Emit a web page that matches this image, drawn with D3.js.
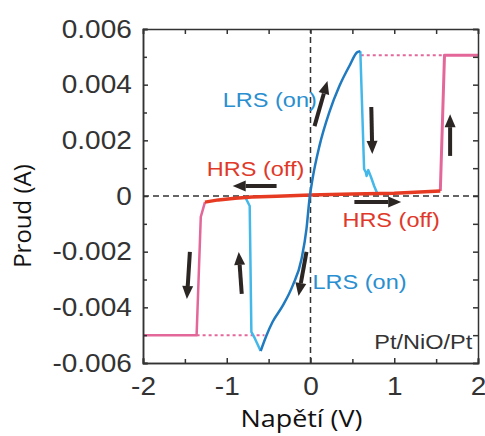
<!DOCTYPE html>
<html>
<head>
<meta charset="utf-8">
<script src="https://cdn.jsdelivr.net/npm/d3@7"></script>
<style>
    body { margin: 0; background: #fff; }
    svg { display: block; }
    .axis path, .axis line { stroke: #333; stroke-width: 1.5; }
    .axis text { font-family: "Liberation Sans", Arial, sans-serif; font-size: 25px; fill: #333; }
</style>
</head>
<body>
<svg class="chart" width="485" height="436"></svg>
<script>
// tick values and labels
var xTicks = [-2, -1, 0, 1, 2];
var xTickLabels = ["-2", "-1", "0", "1", "2"];
var yTicks = [-0.006, -0.004, -0.002, 0, 0.002, 0.004, 0.006];
var yTickLabels = ["-0.006", "-0.004", "-0.002", "0", "0.002", "0.004", "0.006"];
var xMinorTicks = [-1.5, -0.5, 0.5, 1.5];
var yMinorTicks = [-0.005, -0.003, -0.001, 0.001, 0.003, 0.005];

// curves, [voltage, current]
var hrsCurve = [[-1.26, -0.00022], [-1.1, -0.00014], [-0.9, -0.00008], [-0.7, -0.00004],
    [-0.4, -0.00001], [0, 0.00004], [0.5, 0.00007], [1.0, 0.0001], [1.55, 0.00018]];
var lrsCurve = [[-0.595, -0.00557], [-0.527, -0.00502], [-0.452, -0.00452], [-0.333, -0.00395],
    [-0.214, -0.00323], [-0.107, -0.00226], [-0.048, -0.00118], [-0.012, -0.0001], [0.024, 0.00061],
    [0.107, 0.0018], [0.226, 0.00302], [0.345, 0.00395], [0.464, 0.00467], [0.56, 0.00517], [0.595, 0.0052]];
var resetRight = [[0.595, 0.0052], [0.64, 0.00097], [0.66, 0.00086], [0.67, 0.00072], [0.69, 0.00093],
    [0.72, 0.0007], [0.76, 0.00036], [0.8, 0.00007]];
var setLeft = [[-0.786, 0], [-0.726, -0.00036], [-0.706, -0.00488], [-0.667, -0.0051], [-0.595, -0.00557]];
var complianceLeft = [[-2, -0.005], [-1.36, -0.005], [-1.31, -0.00075], [-1.26, -0.00022]];
var complianceRight = [[1.55, 0.00018], [1.6, 0.00506], [2, 0.00506]];
var dottedLow = [[-1.36, -0.005], [-0.55, -0.005]];
var dottedHigh = [[0.6, 0.00506], [1.6, 0.00506]];

// arrows, [v1, i1, v2, i2]
var arrows = [
    [0.048, 0.00251, 0.202, 0.00413],
    [-0.405, 0.00036, -0.929, 0.00036],
    [0.726, 0.0032, 0.738, 0.00151],
    [1.667, 0.00144, 1.667, 0.00294],
    [0.524, -0.00022, 1.083, -0.00022],
    [-1.44, -0.00201, -1.476, -0.0037],
    [-0.821, -0.00352, -0.857, -0.00201],
    [-0.048, -0.00201, -0.143, -0.00359]
];

// annotations, [text, v, i, colour]
var notes = [
    ["LRS (on)", -1.048, 0.0032, "#2a8fd0"],
    ["HRS (off)", -1.238, 0.00072, "#e0392a"],
    ["HRS (off)", 0.381, -0.00111, "#e0392a"],
    ["LRS (on)", 0.024, -0.00334, "#2a8fd0"],
    ["Pt/NiO/Pt", 0.762, -0.00549, "#333"]
];

var svg = d3.select("svg.chart");
var x = d3.scaleLinear().domain([-2, 2]).range([143, 478]);
var y = d3.scaleLinear().domain([-0.006, 0.006]).range([363, 29]);
var stretch = "scale(1.12,1)";

var line = d3.line()
    .x(function (d) { return x(d[0]); })
    .y(function (d) { return y(d[1]); });

// dashed zero lines
svg.append("line")
    .attr("x1", x(-2)).attr("x2", x(2))
    .attr("y1", y(0)).attr("y2", y(0))
    .attr("stroke", "#333").attr("stroke-width", 1.5)
    .attr("stroke-dasharray", "6,4");
svg.append("line")
    .attr("x1", x(0)).attr("x2", x(0))
    .attr("y1", y(-0.006)).attr("y2", y(0.006))
    .attr("stroke", "#333").attr("stroke-width", 1.5)
    .attr("stroke-dasharray", "6,4");

// dotted compliance lines
[dottedLow, dottedHigh].forEach(function (d) {
    svg.append("path")
        .attr("d", line(d))
        .attr("fill", "none")
        .attr("stroke", "#e4679a")
        .attr("stroke-width", 2)
        .attr("stroke-dasharray", "3,3");
});

function drawCurve(data, colour, width) {
    svg.append("path")
        .attr("d", line(data))
        .attr("fill", "none")
        .attr("stroke", colour)
        .attr("stroke-width", width)
        .attr("stroke-linejoin", "round");
}
drawCurve(complianceLeft, "#e4679a", 2.5);
drawCurve(complianceRight, "#e4679a", 3);
drawCurve(setLeft, "#45b8ea", 2.5);
drawCurve(resetRight, "#45b8ea", 2.5);
drawCurve(hrsCurve, "#e63b22", 3.5);
svg.append("path")
    .attr("d", line.curve(d3.curveMonotoneX)(lrsCurve))
    .attr("fill", "none")
    .attr("stroke", "#1f7ac0")
    .attr("stroke-width", 2.5);
line.curve(d3.curveLinear);

// arrows
arrows.forEach(function (a) {
    var x1 = x(a[0]), y1 = y(a[1]), x2 = x(a[2]), y2 = y(a[3]);
    var ang = Math.atan2(y2 - y1, x2 - x1);
    var headLen = 13, headHalf = 5.5;
    var bx = x2 - headLen * Math.cos(ang), by = y2 - headLen * Math.sin(ang);
    svg.append("line")
        .attr("x1", x1).attr("y1", y1).attr("x2", bx).attr("y2", by)
        .attr("stroke", "#2b2523").attr("stroke-width", 4);
    var px = -Math.sin(ang) * headHalf, py = Math.cos(ang) * headHalf;
    svg.append("path")
        .attr("d", "M" + x2 + "," + y2 + "L" + (bx + px) + "," + (by + py) +
            "L" + (bx - px) + "," + (by - py) + "Z")
        .attr("fill", "#2b2523");
});

// annotations
notes.forEach(function (n) {
    svg.append("text")
        .attr("transform", "translate(" + x(n[1]) + "," + y(n[2]) + ") " + stretch)
        .attr("font-family", "Liberation Sans, Arial, sans-serif")
        .attr("font-size", 21)
        .attr("fill", n[3])
        .text(n[0]);
});

// axes with inward ticks
var bottom = svg.append("g").attr("class", "axis")
    .attr("transform", "translate(0," + y(-0.006) + ")")
    .call(d3.axisBottom(x).tickValues(xTicks).tickSize(-5).tickPadding(14)
        .tickFormat(function (d, i) { return xTickLabels[i]; }));
bottom.selectAll("text").attr("transform", stretch);
svg.append("g").attr("class", "axis")
    .attr("transform", "translate(0," + y(-0.006) + ")")
    .call(d3.axisBottom(x).tickValues(xMinorTicks).tickSize(-4).tickFormat(""));

var left = svg.append("g").attr("class", "axis")
    .attr("transform", "translate(" + x(-2) + ",0)")
    .call(d3.axisLeft(y).tickValues(yTicks).tickSize(-5).tickPadding(10)
        .tickFormat(function (d, i) { return yTickLabels[i]; }));
left.selectAll("text").attr("transform", stretch);
svg.append("g").attr("class", "axis")
    .attr("transform", "translate(" + x(-2) + ",0)")
    .call(d3.axisLeft(y).tickValues(yMinorTicks).tickSize(-4).tickFormat(""));

svg.append("g").attr("class", "axis")
    .attr("transform", "translate(0," + y(0.006) + ")")
    .call(d3.axisTop(x).tickValues(xTicks.concat(xMinorTicks)).tickSize(-5).tickFormat(""));
svg.append("g").attr("class", "axis")
    .attr("transform", "translate(" + x(2) + ",0)")
    .call(d3.axisRight(y).tickValues(yTicks.concat(yMinorTicks)).tickSize(-5).tickFormat(""));

// axis titles
svg.append("text")
    .attr("transform", "translate(" + (x(0) - 9) + ",427) " + stretch)
    .attr("text-anchor", "middle")
    .attr("font-family", "Open Sans, sans-serif")
    .attr("font-size", 24)
    .attr("fill", "#111")
    .text("Napětí (V)");
svg.append("text")
    .attr("transform", "translate(31,216) rotate(-90)")
    .attr("text-anchor", "middle")
    .attr("font-family", "Open Sans, sans-serif")
    .attr("font-size", 24)
    .attr("fill", "#111")
    .text("Proud (A)");
</script>
</body>
</html>
